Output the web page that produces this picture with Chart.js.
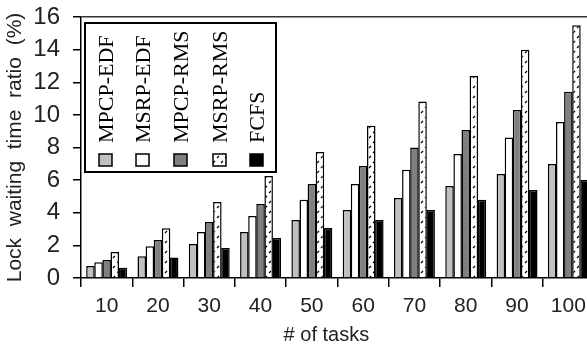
<!DOCTYPE html>
<html>
<head>
<meta charset="utf-8">
<script src="https://cdn.jsdelivr.net/npm/chart.js@4"></script>
<style>
  html, body { margin: 0; padding: 0; background: #fff; overflow: hidden; }
  #wrap { width: 594px; height: 347px; }
</style>
</head>
<body>
<div id="wrap"><canvas id="c" width="594" height="347"></canvas></div>
<script>
const categories = ['10', '20', '30', '40', '50', '60', '70', '80', '90', '100'];
const mpcpEdf = [0.74, 1.33, 2.09, 2.82, 3.56, 4.17, 4.91, 5.64, 6.38, 6.99];
const msrpEdf = [0.96, 1.94, 2.82, 3.80, 4.79, 5.77, 6.63, 7.60, 8.61, 9.57];
const mpcpRms = [1.10, 2.33, 3.44, 4.54, 5.77, 6.87, 8.00, 9.08, 10.30, 11.41];
const msrpRms = [1.60, 3.05, 4.66, 6.26, 7.73, 9.33, 10.82, 12.39, 13.99, 15.50];
const fcfs    = [0.63, 1.25, 1.84, 2.45, 3.07, 3.56, 4.17, 4.79, 5.40, 6.01];
const yTicks  = [0, 2, 4, 6, 8, 10, 12, 14, 16];

// dotted hatch used by MSRP-RMS
function hatch() {
  const t = document.createElement('canvas');
  t.width = 8; t.height = 10;
  const g = t.getContext('2d');
  g.fillStyle = '#fff'; g.fillRect(0, 0, 8, 10);
  g.strokeStyle = '#000'; g.lineWidth = 1.2;
  g.beginPath(); g.moveTo(7, 1); g.lineTo(5, 3); g.moveTo(3, 6); g.lineTo(1, 8); g.stroke();
  return g.createPattern(t, 'repeat');
}

const ds = (label, data, bg) => ({ label, data, backgroundColor: bg, borderColor: '#000', borderWidth: 1.5, borderSkipped: 'bottom' });

const legendBox = {
  id: 'legendBox',
  afterDraw(chart) {
    const ctx = chart.ctx;
    ctx.save();
    ctx.fillStyle = '#fff';
    ctx.fillRect(85, 23, 191, 149);
    ctx.strokeStyle = '#000'; ctx.lineWidth = 2;
    ctx.strokeRect(85, 23, 191, 149);
    const xs = [106, 143, 181, 220, 257];
    chart.data.datasets.forEach((d, i) => {
      const x = xs[i];
      ctx.save();
      ctx.translate(x, 143);
      ctx.rotate(-Math.PI / 2);
      ctx.font = '22px "Liberation Serif"';
      ctx.fillStyle = '#000';
      ctx.textAlign = 'left';
      ctx.textBaseline = 'middle';
      ctx.fillText(d.label, 0, 1);
      ctx.restore();
      ctx.fillStyle = d.backgroundColor;
      ctx.fillRect(x - 7, 154, 13, 12);
      ctx.lineWidth = 1.5; ctx.strokeStyle = '#000';
      ctx.strokeRect(x - 7, 154, 13, 12);
    });
    ctx.restore();
  }
};

new Chart(document.getElementById('c'), {
  type: 'bar',
  data: {
    labels: categories,
    datasets: [
      ds('MPCP-EDF', mpcpEdf, '#c0c0c0'),
      ds('MSRP-EDF', msrpEdf, '#ffffff'),
      ds('MPCP-RMS', mpcpRms, '#808080'),
      ds('MSRP-RMS', msrpRms, hatch()),
      ds('FCFS', fcfs, '#000000'),
    ]
  },
  options: {
    responsive: false,
    animation: false,
    layout: { padding: 0 },
    datasets: { bar: { categoryPercentage: 0.79, barPercentage: 1.05 } },
    plugins: { legend: { display: false }, tooltip: { enabled: false } },
    scales: {
      x: {
        afterFit(s) { s.height = 69; },
        border: { color: '#000', width: 1.5 },
        grid: { offset: true, drawOnChartArea: false, tickLength: 9, color: '#000', lineWidth: 1.5 },
        ticks: { font: { family: '"Liberation Sans"', size: 21 }, color: '#222', padding: 7 },
        title: { display: true, text: '# of tasks    ', font: { family: '"Liberation Sans"', size: 20 }, color: '#222', padding: { top: 0, bottom: 0 } }
      },
      y: {
        min: 0, max: 16,
        afterFit(s) { s.width = 81; s.paddingTop = 17; s.paddingBottom = 0; },
        afterBuildTicks(s) { s.ticks = yTicks.map(v => ({ value: v })); },
        border: { color: '#000', width: 1.5 },
        grid: {
          tickLength: 8,
          lineWidth: 1.5,
          color: (c) => c.tick && c.tick.value === 16 ? '#333' : 'rgba(0,0,0,0)',
          tickColor: '#000'
        },
        ticks: { font: { family: '"Liberation Sans"', size: 24 }, color: '#222', padding: 13 },
        title: { display: true, text: 'Lock  waiting  time  ratio  (%)', font: { family: '"Liberation Sans"', size: 21 }, color: '#222', padding: { top: 3, bottom: 0 } }
      }
    }
  },
  plugins: [legendBox]
});
</script>
</body>
</html>
